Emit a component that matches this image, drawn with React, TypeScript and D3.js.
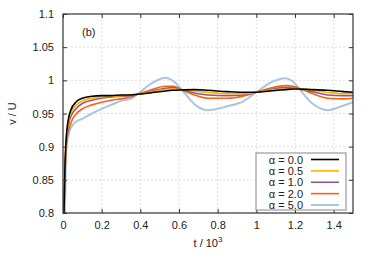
import React, { useEffect, useRef } from 'react';
import * as d3 from 'd3';

// time axis in units of 10^3
const times = [0.005, 0.01, 0.015, 0.02, 0.04, 0.07, 0.1, 0.15, 0.2, 0.25, 0.3, 0.35, 0.385, 0.45, 0.53, 0.57, 0.615, 0.68, 0.75, 0.85, 0.93, 1.0, 1.07, 1.15, 1.19, 1.22, 1.29, 1.37, 1.45, 1.5];

const alpha00 = [0.80, 0.87, 0.905, 0.925, 0.955, 0.968, 0.973, 0.976, 0.977, 0.977, 0.978, 0.978, 0.979, 0.981, 0.984, 0.985, 0.9855, 0.986, 0.985, 0.983, 0.982, 0.982, 0.984, 0.986, 0.987, 0.987, 0.986, 0.985, 0.983, 0.982];
const alpha05 = [0.80, 0.865, 0.9, 0.92, 0.95, 0.963, 0.969, 0.973, 0.975, 0.976, 0.977, 0.978, 0.979, 0.982, 0.986, 0.987, 0.9855, 0.984, 0.982, 0.98, 0.98, 0.982, 0.985, 0.987, 0.988, 0.987, 0.985, 0.982, 0.98, 0.98];
const alpha10 = [0.80, 0.86, 0.895, 0.915, 0.945, 0.958, 0.965, 0.97, 0.973, 0.975, 0.976, 0.977, 0.979, 0.983, 0.988, 0.989, 0.9855, 0.981, 0.978, 0.977, 0.978, 0.982, 0.986, 0.989, 0.989, 0.987, 0.983, 0.978, 0.977, 0.977];
const alpha20 = [0.80, 0.855, 0.89, 0.91, 0.935, 0.95, 0.957, 0.963, 0.967, 0.97, 0.972, 0.975, 0.979, 0.985, 0.991, 0.991, 0.9855, 0.978, 0.973, 0.973, 0.976, 0.982, 0.988, 0.992, 0.991, 0.988, 0.98, 0.973, 0.972, 0.973];
const alpha50 = [0.78, 0.80, 0.88, 0.905, 0.928, 0.938, 0.942, 0.95, 0.957, 0.963, 0.969, 0.972, 0.979, 0.994, 1.004, 0.999, 0.9855, 0.964, 0.955, 0.961, 0.968, 0.982, 0.996, 1.003, 0.998, 0.988, 0.965, 0.955, 0.962, 0.967];

const seriesLabels = ['α = 0.0', 'α = 0.5', 'α = 1.0', 'α = 2.0', 'α = 5.0'];
const seriesColors = ['#000000', '#ffb000', '#8e5b8e', '#ff6010', '#a9c5e3'];
const seriesValues = [alpha00, alpha05, alpha10, alpha20, alpha50];

const xTicks = [0, 0.2, 0.4, 0.6, 0.8, 1, 1.2, 1.4];
const yTicks = [0.8, 0.85, 0.9, 0.95, 1, 1.05, 1.1];

function Chart() {
  const ref = useRef<SVGSVGElement>(null);

  useEffect(() => {
    const width = 374;
    const height = 262;
    const marginTop = 14;
    const marginRight = 21;
    const marginBottom = 49;
    const marginLeft = 63;
    const font = 'Liberation Sans, Arial, sans-serif';

    const svg = d3.select(ref.current);
    svg.selectAll('*').remove();

    const x = d3.scaleLinear().domain([0, 1.5]).range([marginLeft, width - marginRight]);
    const y = d3.scaleLinear().domain([0.8, 1.1]).range([height - marginBottom, marginTop]);

    svg.append('rect').attr('width', width).attr('height', height).attr('fill', '#fff');

    // grid
    const grid = svg.append('g').attr('stroke', '#d4d4d4').attr('stroke-width', 0.7).attr('stroke-dasharray', '2,2');
    grid.selectAll('.gx').data(xTicks.slice(1)).join('line')
      .attr('x1', (d) => x(d)).attr('x2', (d) => x(d))
      .attr('y1', y(0.8)).attr('y2', y(1.1));
    grid.selectAll('.gy').data(yTicks.slice(1, -1)).join('line')
      .attr('y1', (d) => y(d)).attr('y2', (d) => y(d))
      .attr('x1', x(0)).attr('x2', x(1.5));

    // curves
    svg.append('defs').append('clipPath').attr('id', 'plotclip')
      .append('rect').attr('x', x(0)).attr('y', y(1.1))
      .attr('width', x(1.5) - x(0)).attr('height', y(0.8) - y(1.1));

    const line = d3.line<number>()
      .x((_, i) => x(times[i]))
      .y((d) => y(d))
      .curve(d3.curveMonotoneX);

    svg.append('g').attr('clip-path', 'url(#plotclip)')
      .selectAll('path')
      .data(seriesValues.map((v, i) => ({ v, i })).reverse())
      .join('path')
      .attr('fill', 'none')
      .attr('stroke', (d) => seriesColors[d.i])
      .attr('stroke-width', (d) => (d.i === 4 ? 2 : 1.6))
      .attr('d', (d) => line(d.v));

    // axes with mirrored inward ticks
    const tickLen = 4;
    const axStyle = (g: any) => {
      g.select('.domain').remove();
      g.selectAll('line').attr('stroke', '#333');
      g.selectAll('text').attr('font-family', font).attr('font-size', 11).attr('fill', '#222');
    };

    svg.append('g')
      .attr('transform', `translate(0,${y(0.8)})`)
      .call(d3.axisBottom(x).tickValues(xTicks).tickFormat(d3.format('')).tickSizeInner(-tickLen).tickSizeOuter(0).tickPadding(8))
      .call(axStyle);
    svg.append('g')
      .attr('transform', `translate(0,${y(1.1)})`)
      .call(d3.axisTop(x).tickValues(xTicks).tickFormat(() => '').tickSizeInner(-tickLen).tickSizeOuter(0))
      .call(axStyle);
    svg.append('g')
      .attr('transform', `translate(${x(0)},0)`)
      .call(d3.axisLeft(y).tickValues(yTicks).tickFormat(d3.format('')).tickSizeInner(-tickLen).tickSizeOuter(0).tickPadding(9))
      .call(axStyle);
    svg.append('g')
      .attr('transform', `translate(${x(1.5)},0)`)
      .call(d3.axisRight(y).tickValues(yTicks).tickFormat(() => '').tickSizeInner(-tickLen).tickSizeOuter(0))
      .call(axStyle);

    // frame
    svg.append('rect')
      .attr('x', x(0)).attr('y', y(1.1))
      .attr('width', x(1.5) - x(0)).attr('height', y(0.8) - y(1.1))
      .attr('fill', 'none').attr('stroke', '#333').attr('stroke-width', 1.2);

    // labels
    const xl = svg.append('text')
      .attr('x', (x(0) + x(1.5)) / 2).attr('y', 247)
      .attr('text-anchor', 'middle')
      .attr('font-family', font).attr('font-size', 11).attr('fill', '#222');
    xl.append('tspan').text('t / 10');
    xl.append('tspan').attr('dy', -5).attr('font-size', 8).text('3');

    svg.append('text')
      .attr('transform', `translate(16,${(y(0.8) + y(1.1)) / 2}) rotate(-90)`)
      .attr('text-anchor', 'middle')
      .attr('font-family', font).attr('font-size', 11).attr('fill', '#222')
      .text('v / U');

    svg.append('text')
      .attr('x', 82).attr('y', 36)
      .attr('font-family', font).attr('font-size', 11).attr('fill', '#222')
      .text('(b)');

    // legend
    const legend = svg.append('g');
    legend.append('rect')
      .attr('x', 256).attr('y', 153).attr('width', 90).attr('height', 57)
      .attr('fill', '#fff').attr('stroke', '#888').attr('stroke-width', 1);
    const rowY = d3.scalePoint<number>().domain(d3.range(5)).range([159.5, 205]);
    seriesLabels.forEach((lab, i) => {
      legend.append('text')
        .attr('x', 303).attr('y', rowY(i)! + 4)
        .attr('text-anchor', 'end')
        .attr('font-family', font).attr('font-size', 11).attr('fill', '#222')
        .text(lab);
      legend.append('line')
        .attr('x1', 311).attr('x2', 339)
        .attr('y1', rowY(i)!).attr('y2', rowY(i)!)
        .attr('stroke', seriesColors[i]).attr('stroke-width', i === 4 ? 2 : 1.6);
    });
  }, []);

  return <svg ref={ref} width={374} height={262} style={{ position: 'absolute', left: 0, top: 0 }} />;
}

export default function App() {
  return <Chart />;
}
